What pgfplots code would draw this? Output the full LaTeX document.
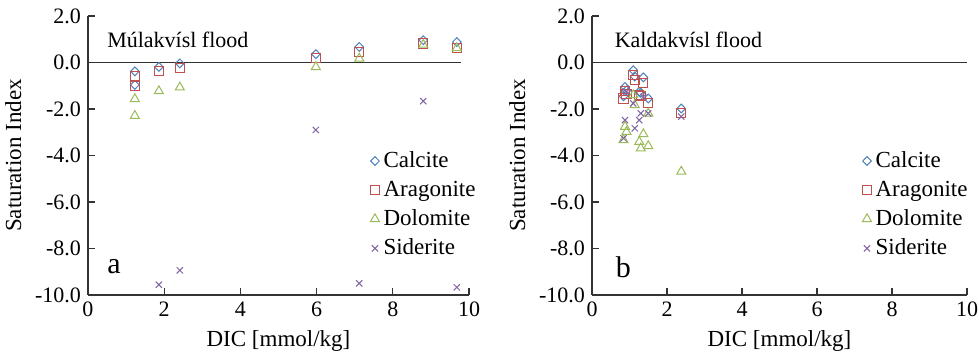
\documentclass[border=0pt]{standalone}
\usepackage{pgfplots}
\pgfplotsset{compat=1.18}
\usepackage{fontspec}
\setmainfont{Liberation Serif}
\definecolor{cal}{HTML}{4F81BD}
\definecolor{ara}{HTML}{C0504D}
\definecolor{dol}{HTML}{9BBB59}
\definecolor{sid}{HTML}{8064A2}
\pgfplotsset{
  siax/.style={
    scale only axis,
    axis lines=left,
    axis line style={-, line width=0.6pt, black!80},
    tick style={line width=0.6pt, black!80},
    tick align=inside,
    major tick length=3.5pt,
    xmin=0, xmax=10, ymin=-10, ymax=2,
    xtick={0,2,4,6,8,10},
    ytick={-10,-8,-6,-4,-2,0,2},
    yticklabel style={/pgf/number format/.cd, fixed, fixed zerofill, precision=1, assume math mode=true},
    xticklabel style={/pgf/number format/assume math mode=true},
    tick label style={font=\fontsize{11}{13}\selectfont},
    label style={font=\fontsize{11.5}{13}\selectfont},
    xlabel={DIC [mmol/kg]},
    ylabel={Saturation Index},
    clip=false,
    legend style={draw=none, fill=none, font=\fontsize{11.5}{13}\selectfont,
      row sep=1.2pt, inner sep=0pt},
    legend cell align=left,
    legend image code/.code={\draw[#1] plot coordinates {(0.12cm,0cm)};},
  },
  calm/.style={only marks, mark=diamond, mark size=2.2pt, mark options={xscale=1.3}, draw=cal, line width=0.5pt},
  aram/.style={only marks, mark=square, mark size=2.3pt, draw=ara, line width=0.5pt},
  dolm/.style={only marks, mark=triangle, mark size=2.6pt, draw=dol, line width=0.5pt},
  sidm/.style={only marks, mark=x, mark size=2.2pt, draw=sid, line width=0.5pt},
}
\begin{document}
\begin{tikzpicture}
\begin{axis}[siax, width=190.5pt, height=139.5pt, at={(0pt,0pt)},
  legend style={at={(rel axis cs:0.74,0.53)}, anchor=north west}]
\addplot[calm] coordinates {(1.23,-0.38) (1.23,-0.96) (1.86,-0.19) (2.41,-0.04) (5.98,0.36) (7.12,0.67) (8.80,0.96) (9.68,0.88)};
\addlegendentry{Calcite}
\addplot[aram] coordinates {(1.23,-0.59) (1.23,-1.02) (1.86,-0.37) (2.41,-0.23) (5.98,0.20) (7.12,0.46) (8.80,0.82) (9.68,0.64)};
\addlegendentry{Aragonite}
\addplot[dolm] coordinates {(1.23,-1.57) (1.23,-2.29) (1.86,-1.23) (2.41,-1.07) (5.98,-0.19) (7.12,0.17) (8.80,0.77) (9.68,0.62)};
\addlegendentry{Dolomite}
\addplot[sidm] coordinates {(1.86,-9.56) (2.41,-8.94) (5.98,-2.90) (7.12,-9.50) (8.80,-1.66) (9.68,-9.67)};
\addlegendentry{Siderite}
\addplot[black!80, line width=0.6pt, no markers, forget plot] coordinates {(0,0) (9.8,0)};
\node[anchor=west, font=\fontsize{11}{13}\selectfont] at (axis cs:0.32,0.96) {Múlakvísl flood};
\node[anchor=west, font=\fontsize{15}{17}\selectfont] at (axis cs:0.32,-8.8) {a};
\end{axis}
\begin{axis}[siax, width=187.5pt, height=139.5pt, at={(252pt,0pt)},
  legend style={at={(rel axis cs:0.72,0.53)}, anchor=north west}]
\addplot[calm] coordinates {(0.84,-1.45) (0.88,-1.05) (0.92,-1.20) (1.10,-0.33) (1.14,-0.60) (1.26,-1.26) (1.30,-1.30) (1.37,-0.64) (1.50,-1.55) (2.38,-1.98)};
\addlegendentry{Calcite}
\addplot[aram] coordinates {(0.84,-1.55) (0.88,-1.22) (0.92,-1.35) (1.10,-0.55) (1.14,-0.76) (1.26,-1.40) (1.30,-1.45) (1.37,-0.87) (1.50,-1.73) (2.38,-2.16)};
\addlegendentry{Aragonite}
\addplot[dolm] coordinates {(0.84,-3.33) (0.88,-2.76) (0.92,-2.98) (1.10,-1.40) (1.14,-1.83) (1.26,-3.41) (1.30,-3.69) (1.37,-3.08) (1.50,-3.59) (1.50,-2.19) (2.38,-4.69)};
\addlegendentry{Dolomite}
\addplot[sidm] coordinates {(0.84,-3.26) (0.88,-2.48) (0.92,-1.26) (1.10,-1.76) (1.14,-2.83) (1.26,-2.48) (1.30,-2.19) (1.37,-1.48) (1.50,-2.19) (2.38,-2.33)};
\addlegendentry{Siderite}
\addplot[black!80, line width=0.6pt, no markers, forget plot] coordinates {(0,0) (10,0)};
\node[anchor=west, font=\fontsize{11}{13}\selectfont] at (axis cs:0.42,0.96) {Kaldakvísl flood};
\node[anchor=west, font=\fontsize{15}{17}\selectfont] at (axis cs:0.45,-8.8) {b};
\end{axis}
\pgfresetboundingbox
\path (-44pt,-31.5pt) rectangle (445.5pt,147.5pt);
\end{tikzpicture}
\end{document}
